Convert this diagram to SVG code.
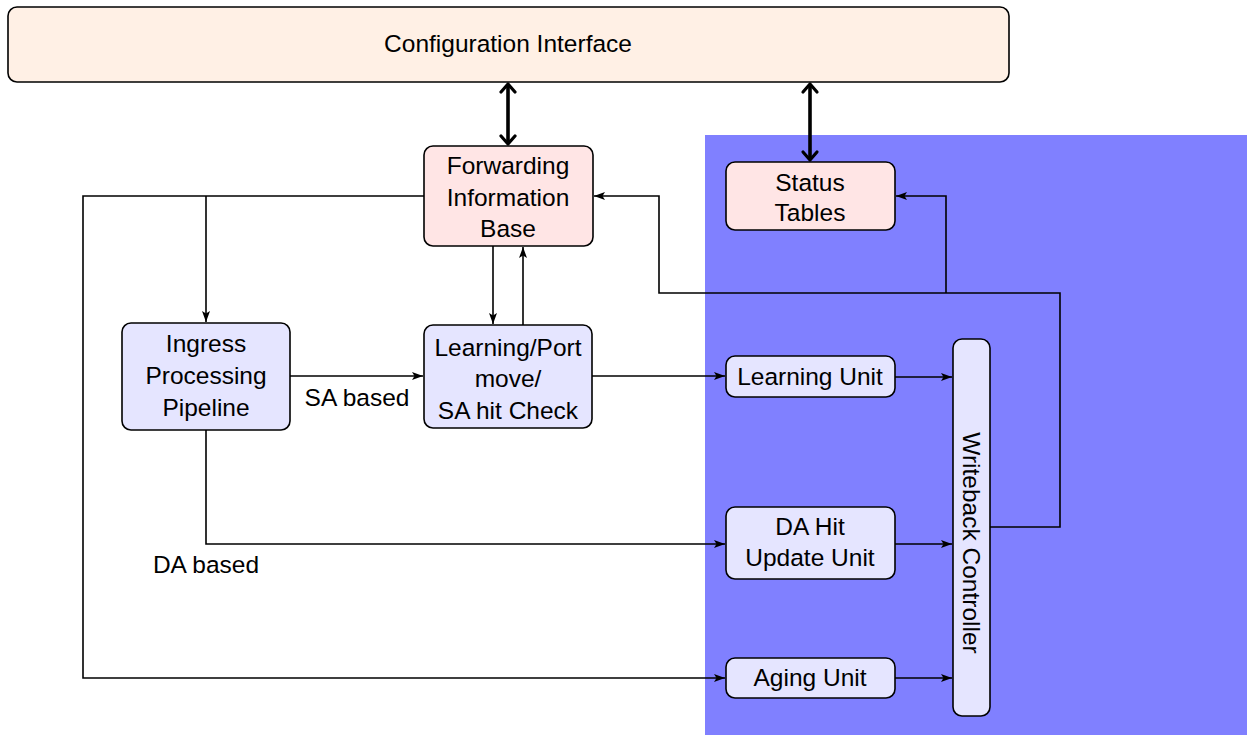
<svg xmlns="http://www.w3.org/2000/svg" width="1247" height="735" viewBox="0 0 1247 735">
  <style>
    .box { stroke: #000; stroke-width: 1.6; }
    .orange { fill: #fff0e5; }
    .red { fill: #ffe5e5; }
    .blue { fill: #e5e5ff; }
    .lbl { font-family: "Liberation Sans", "DejaVu Sans", sans-serif; font-size: 24.5px; fill: #000; text-anchor: middle; dominant-baseline: central; }
    .wire { fill: none; stroke: #000; stroke-width: 1.6; }
    .thick { fill: none; stroke: #000; stroke-width: 3.6; }
    .tip { fill: none; stroke: #000; stroke-width: 3.2; stroke-linecap: round; stroke-linejoin: round; }
  </style>
  <defs>
    <marker id="arr" viewBox="0 0 11 8" refX="11" refY="4" markerWidth="11" markerHeight="8" markerUnits="userSpaceOnUse" orient="auto">
      <path d="M0,0 L11,4 L0,8 L2.5,4 Z" fill="#000"/>
    </marker>
  </defs>

  <!-- shaded region holding the writeback side -->
  <rect x="705" y="135" width="542" height="600" fill="#8080ff"/>

  <g id="config">
    <rect class="box orange" x="8" y="7" width="1001" height="75" rx="9"/>
    <text class="lbl" x="508" y="43">Configuration Interface</text>
  </g>

  <g id="fib">
    <rect class="box red" x="424" y="146" width="169" height="100" rx="9"/>
    <text class="lbl" x="508" y="165">Forwarding</text>
    <text class="lbl" x="508" y="197">Information</text>
    <text class="lbl" x="508" y="228">Base</text>
  </g>

  <g id="status">
    <rect class="box red" x="726" y="162" width="169" height="68" rx="9"/>
    <text class="lbl" x="810" y="182">Status</text>
    <text class="lbl" x="810" y="212">Tables</text>
  </g>

  <g id="ingress">
    <rect class="box blue" x="122" y="323" width="168" height="107" rx="9"/>
    <text class="lbl" x="206" y="343">Ingress</text>
    <text class="lbl" x="206" y="375">Processing</text>
    <text class="lbl" x="206" y="407">Pipeline</text>
  </g>

  <g id="learncheck">
    <rect class="box blue" x="424" y="325" width="168" height="103" rx="9"/>
    <text class="lbl" x="508" y="347">Learning/Port</text>
    <text class="lbl" x="508" y="378">move/</text>
    <text class="lbl" x="508" y="410">SA hit Check</text>
  </g>

  <g id="learnunit">
    <rect class="box blue" x="726" y="356" width="169" height="41" rx="9"/>
    <text class="lbl" x="810" y="376">Learning Unit</text>
  </g>

  <g id="dahit">
    <rect class="box blue" x="726" y="507" width="169" height="72" rx="9"/>
    <text class="lbl" x="810" y="526">DA Hit</text>
    <text class="lbl" x="810" y="557">Update Unit</text>
  </g>

  <g id="aging">
    <rect class="box blue" x="726" y="658" width="169" height="40" rx="9"/>
    <text class="lbl" x="810" y="677">Aging Unit</text>
  </g>

  <g id="writeback">
    <rect class="box blue" x="953" y="339" width="37" height="377" rx="9"/>
    <text class="lbl" transform="translate(971,543) rotate(90)">Writeback Controller</text>
  </g>

  <g id="connectors">
    <!-- configuration links (bidirectional) -->
    <line class="thick" x1="508" y1="84" x2="508" y2="144"/>
    <polyline class="tip" points="501,92 508,84 515,92"/>
    <polyline class="tip" points="501,136 508,144 515,136"/>
    <line class="thick" x1="810" y1="84" x2="810" y2="160"/>
    <polyline class="tip" points="803,92 810,84 817,92"/>
    <polyline class="tip" points="803,152 810,160 817,152"/>

    <!-- FIB fan-out -->
    <polyline class="wire" points="424,196 83,196 83,678 725,678" marker-end="url(#arr)"/>
    <line class="wire" x1="206" y1="196" x2="206" y2="322" marker-end="url(#arr)"/>
    <line class="wire" x1="493" y1="246" x2="493" y2="324" marker-end="url(#arr)"/>
    <line class="wire" x1="523" y1="325" x2="523" y2="247" marker-end="url(#arr)"/>

    <!-- ingress paths -->
    <line class="wire" x1="290" y1="376" x2="423" y2="376" marker-end="url(#arr)"/>
    <polyline class="wire" points="206,430 206,544 725,544" marker-end="url(#arr)"/>
    <line class="wire" x1="592" y1="376" x2="725" y2="376" marker-end="url(#arr)"/>

    <!-- units into writeback -->
    <line class="wire" x1="895" y1="377" x2="952" y2="377" marker-end="url(#arr)"/>
    <line class="wire" x1="895" y1="544" x2="952" y2="544" marker-end="url(#arr)"/>
    <line class="wire" x1="895" y1="678" x2="952" y2="678" marker-end="url(#arr)"/>

    <!-- writeback feedback -->
    <polyline class="wire" points="990,527 1060,527 1060,293 659,293 659,196 594,196" marker-end="url(#arr)"/>
    <polyline class="wire" points="946,293 946,196 896,196" marker-end="url(#arr)"/>

    <text class="lbl" x="357" y="397">SA based</text>
    <text class="lbl" x="206" y="564">DA based</text>
  </g>
</svg>
